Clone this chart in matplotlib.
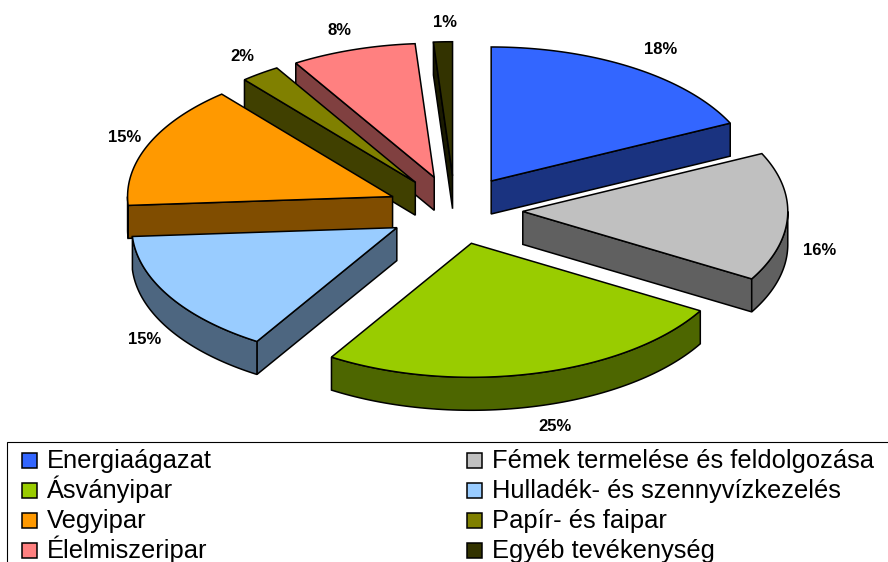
import numpy as np
import matplotlib
matplotlib.use("Agg")
import matplotlib.pyplot as plt
from matplotlib.patches import Polygon, Rectangle

plt.rcParams['font.family'] = ['Liberation Sans', 'DejaVu Sans']

categories = ["Energiaágazat", "Fémek termelése és feldolgozása", "Ásványipar",
              "Hulladék- és szennyvízkezelés", "Vegyipar", "Papír- és faipar",
              "Élelmiszeripar", "Egyéb tevékenység"]
shares = [17.9, 15.5, 25.45, 15.1, 14.9, 2.4, 7.6, 1.15]
top_colors = ["#3366FF", "#C0C0C0", "#99CC00", "#99CCFF",
              "#FF9900", "#808000", "#FF8080", "#333300"]
wall_colors = ["#1A3380", "#606060", "#4D6600", "#4D6680",
               "#804D00", "#404000", "#804040", "#1A1A00"]

# projection of the tilted pie, in figure pixels
CX, CY = 455, 210
RX, RY = 265, 134
DEPTH = 33
EXPLODE = 0.256
LABEL_R = 1.41
LABEL_NUDGE = [(6, -1), (-9, 31), (10, 1), (10, 15), (13, 1), (6, 0), (-1, 0), (3, 1)]

fig = plt.figure(figsize=(8.88, 5.62), dpi=100)
ax = fig.add_axes([0, 0, 1, 1])
ax.set_xlim(0, 888)
ax.set_ylim(562, 0)
ax.axis('off')


def pt(theta, r=1.0):
    return np.array([r * RX * np.sin(theta), -r * RY * np.cos(theta)])


edges = np.radians(np.concatenate([[0], np.cumsum(shares)]) * 3.6)
mids = (edges[:-1] + edges[1:]) / 2
order = np.argsort(-np.cos(mids))
style = dict(edgecolor='black', linewidth=1.1, joinstyle='miter')

for i in order:
    t0, t1 = edges[i], edges[i + 1]
    apex = np.array([CX, CY]) + pt(mids[i], EXPLODE)
    down = np.array([0, DEPTH])
    arc = np.array([apex + pt(t) for t in np.linspace(t0, t1, 80)])

    if np.sin(t0) < 0:
        p = apex + pt(t0)
        ax.add_patch(Polygon([apex, p, p + down, apex + down], facecolor=wall_colors[i], **style))
    if np.sin(t1) > 0:
        p = apex + pt(t1)
        ax.add_patch(Polygon([apex, p, p + down, apex + down], facecolor=wall_colors[i], **style))
    lo, hi = max(t0, np.pi / 2), min(t1, 3 * np.pi / 2)
    if hi > lo:
        rim = np.array([apex + pt(t) for t in np.linspace(lo, hi, 80)])
        ax.add_patch(Polygon(np.vstack([rim, (rim + down)[::-1]]),
                             facecolor=wall_colors[i], **style))
    ax.add_patch(Polygon(np.vstack([[apex], arc]), facecolor=top_colors[i], **style))

for i, m in enumerate(mids):
    c = np.array([CX, CY]) + pt(m, LABEL_R)
    if np.cos(m) < 0:
        c[1] += DEPTH * -np.cos(m)
    ax.text(c[0] + LABEL_NUDGE[i][0], c[1] + LABEL_NUDGE[i][1], f"{round(shares[i])}%",
            ha='center', va='center', fontsize=12, fontweight='bold', color='black')

# legend box (runs past the right and bottom edges of the figure)
ax.add_patch(Rectangle((7, 442), 900, 140, facecolor='white', edgecolor='black', linewidth=0.8))
for i, name in enumerate(categories):
    row, col = i // 2, i % 2
    sx = 22 if col == 0 else 467
    base = 468 + 30.1 * row
    ax.add_patch(Rectangle((sx, base - 15), 15, 15, facecolor=top_colors[i],
                           edgecolor='black', linewidth=1.1))
    ax.text(sx + 24.5, base, name, ha='left', va='baseline', fontsize=18.4, color='black')

fig.savefig("out.png", dpi=100)
